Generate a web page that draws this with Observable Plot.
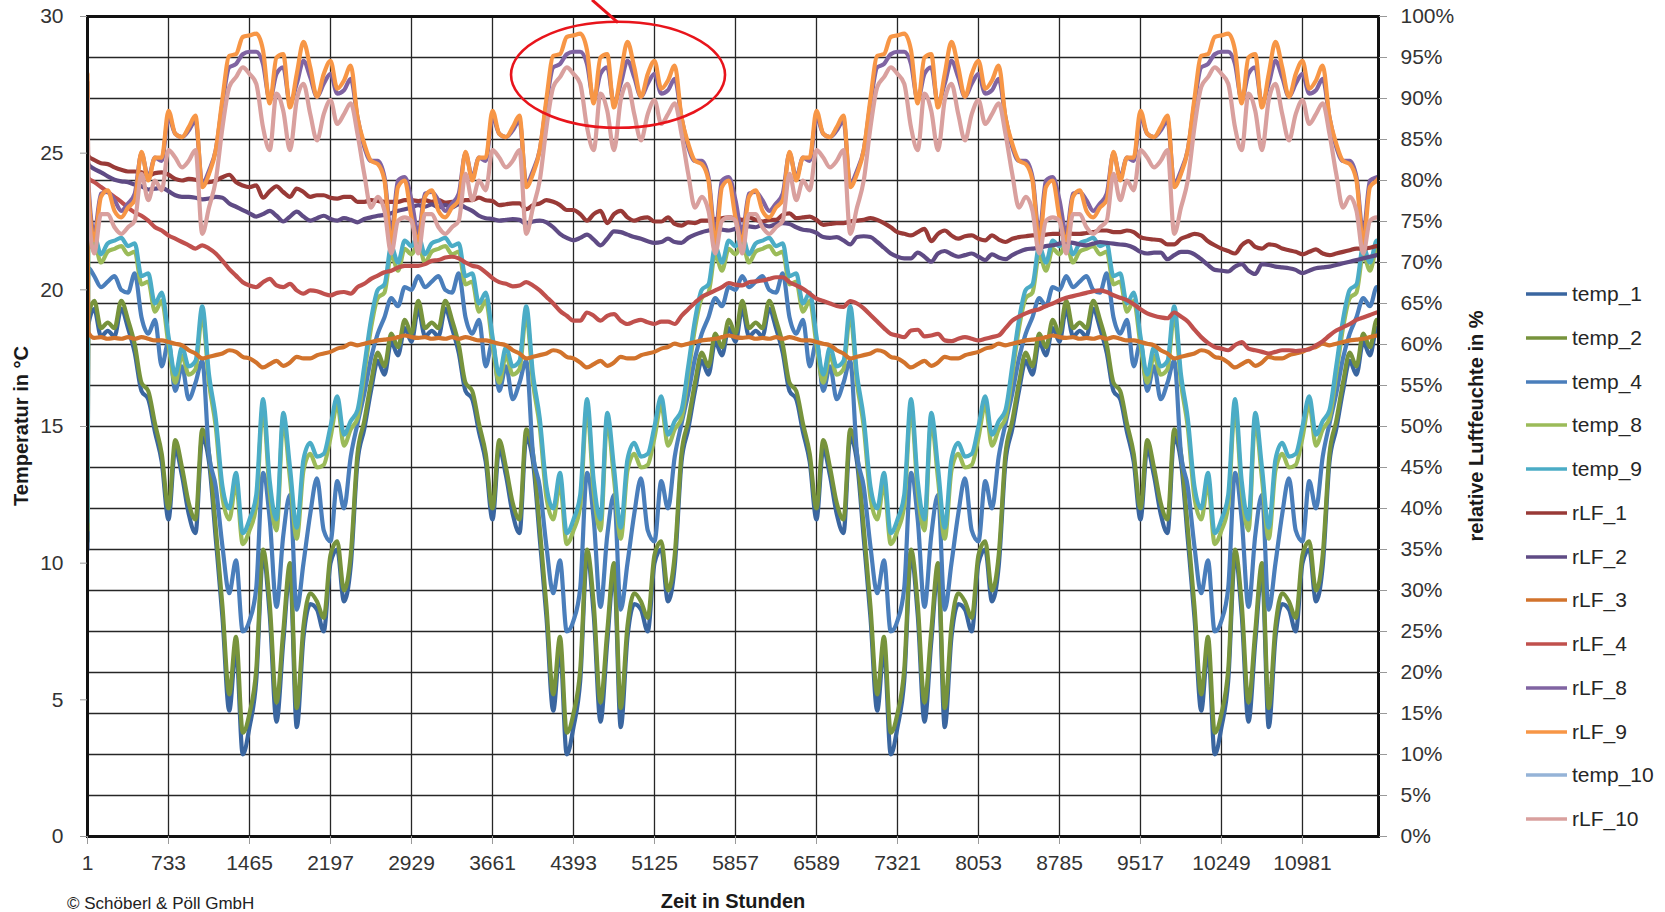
<!DOCTYPE html>
<html>
<head>
<meta charset="utf-8">
<script src="https://cdn.jsdelivr.net/npm/d3@7"></script>
<script src="https://cdn.jsdelivr.net/npm/@observablehq/plot@0.6"></script>
<style>
  body { margin: 0; background: #fff; }
  #wrap { position: relative; width: 1665px; height: 912px; overflow: hidden; font-family: "Liberation Sans", Arial, sans-serif; color: #222; }
  #wrap > svg { position: absolute; left: 0; top: 0; }
  .atitle { position: absolute; font-weight: bold; font-size: 20px; color: #1a1a1a; white-space: nowrap; transform: translate(-50%, -50%); }
  .rot { transform: translate(-50%, -50%) rotate(-90deg); }
  .copy { position: absolute; font-size: 17px; color: #222; white-space: nowrap; transform: translateY(-50%); }
  .lrow { position: absolute; display: flex; align-items: center; height: 26px; font-size: 21px; color: #262626; white-space: nowrap; }
  .lrow svg { margin-right: 5px; }
</style>
</head>
<body>
<div id="wrap"></div>
<script>
// ---------- DATA ----------
// sampling hours (x categories): start, start transient, then every 61 h
const hours = [1, 8, ...d3.range(62, 11714, 61)];
const xTicks = [1, 733, 1465, 2197, 2929, 3661, 4393, 5125, 5857, 6589, 7321, 8053, 8785, 9517, 10249, 10981];
const tempTicks = [0, 5, 10, 15, 20, 25, 30];
const rhTicks = [0, 5, 10, 15, 20, 25, 30, 35, 40, 45, 50, 55, 60, 65, 70, 75, 80, 85, 90, 95, 100];

// Temperatures in °C
const temp_1 = [10.5, 18.7,
19.3,18.3,18.5,18.3,19.3,18.6,17.7,16.3,16.0,14.8,13.7,11.6,14.2,13.2,11.8,11.1,14.6,13.7,10.9,8.0,4.6,6.9,3.0,4.0,5.7,10.2,8.1,4.2,7.1,9.7,4.0,7.3,8.5,8.3,7.5,10.0,10.5,8.6,9.9,13.7,14.9,16.3,17.4,16.9,18.1,17.6,18.6,
18.1,19.3,18.3,18.5,18.3,19.3,18.6,17.7,16.3,16.0,14.8,13.7,11.6,14.2,13.2,11.8,11.1,14.6,13.7,10.9,8.0,4.6,6.9,3.0,4.0,5.7,10.2,8.1,4.2,7.1,9.7,4.0,7.3,8.5,8.3,7.5,10.0,10.5,8.6,9.9,13.7,14.9,16.3,17.4,16.9,18.1,17.6,18.6,
18.1,19.3,18.3,18.5,18.3,19.3,18.6,17.7,16.3,16.0,14.8,13.7,11.6,14.2,13.2,11.8,11.1,14.6,13.7,10.9,8.0,4.6,6.9,3.0,4.0,5.7,10.2,8.1,4.2,7.1,9.7,4.0,7.3,8.5,8.3,7.5,10.0,10.5,8.6,9.9,13.7,14.9,16.3,17.4,16.9,18.1,17.6,18.6,
18.1,19.3,18.3,18.5,18.3,19.3,18.6,17.7,16.3,16.0,14.8,13.7,11.6,14.2,13.2,11.8,11.1,14.6,13.7,10.9,8.0,4.6,6.9,3.0,4.0,5.7,10.2,8.1,4.2,7.1,9.7,4.0,7.3,8.5,8.3,7.5,10.0,10.5,8.6,9.9,13.7,14.9,16.3,17.4,16.9,18.1,17.6,18.6,
18.1];
const temp_2 = [10.8, 19.0,
19.6,18.6,18.8,18.6,19.6,18.9,18.0,16.6,16.3,15.1,14.0,12.0,14.5,13.5,12.2,11.6,14.9,14.0,11.3,8.4,5.2,7.3,3.8,4.5,6.1,10.5,8.5,4.9,7.5,10.0,4.7,7.7,8.9,8.6,8.0,10.3,10.8,9.0,10.3,14.0,15.2,16.6,17.7,17.2,18.4,17.9,18.9,
18.4,19.6,18.6,18.8,18.6,19.6,18.9,18.0,16.6,16.3,15.1,14.0,12.0,14.5,13.5,12.2,11.6,14.9,14.0,11.3,8.4,5.2,7.3,3.8,4.5,6.1,10.5,8.5,4.9,7.5,10.0,4.7,7.7,8.9,8.6,8.0,10.3,10.8,9.0,10.3,14.0,15.2,16.6,17.7,17.2,18.4,17.9,18.9,
18.4,19.6,18.6,18.8,18.6,19.6,18.9,18.0,16.6,16.3,15.1,14.0,12.0,14.5,13.5,12.2,11.6,14.9,14.0,11.3,8.4,5.2,7.3,3.8,4.5,6.1,10.5,8.5,4.9,7.5,10.0,4.7,7.7,8.9,8.6,8.0,10.3,10.8,9.0,10.3,14.0,15.2,16.6,17.7,17.2,18.4,17.9,18.9,
18.4,19.6,18.6,18.8,18.6,19.6,18.9,18.0,16.6,16.3,15.1,14.0,12.0,14.5,13.5,12.2,11.6,14.9,14.0,11.3,8.4,5.2,7.3,3.8,4.5,6.1,10.5,8.5,4.9,7.5,10.0,4.7,7.7,8.9,8.6,8.0,10.3,10.8,9.0,10.3,14.0,15.2,16.6,17.7,17.2,18.4,17.9,18.9,
18.4];
const temp_4 = [10.8, 20.8,
20.5,20.1,20.3,20.5,20.0,19.9,20.6,19.0,18.4,18.9,17.2,18.1,16.3,17.2,16.0,16.6,17.4,14.0,12.8,10.6,8.9,10.1,7.5,7.9,9.1,13.3,11.6,8.4,11.0,12.5,8.3,10.0,11.8,13.1,11.2,10.8,13.0,12.0,13.9,15.1,16.2,17.5,18.4,19.0,19.7,19.4,20.1,
20.0,20.5,20.1,20.3,20.5,20.0,19.9,20.6,19.0,18.4,18.9,17.2,18.1,16.3,17.2,16.0,16.6,17.4,14.0,12.8,10.6,8.9,10.1,7.5,7.9,9.1,13.3,11.6,8.4,11.0,12.5,8.3,10.0,11.8,13.1,11.2,10.8,13.0,12.0,13.9,15.1,16.2,17.5,18.4,19.0,19.7,19.4,20.1,
20.0,20.5,20.1,20.3,20.5,20.0,19.9,20.6,19.0,18.4,18.9,17.2,18.1,16.3,17.2,16.0,16.6,17.4,14.0,12.8,10.6,8.9,10.1,7.5,7.9,9.1,13.3,11.6,8.4,11.0,12.5,8.3,10.0,11.8,13.1,11.2,10.8,13.0,12.0,13.9,15.1,16.2,17.5,18.4,19.0,19.7,19.4,20.1,
20.0,20.5,20.1,20.3,20.5,20.0,19.9,20.6,19.0,18.4,18.9,17.2,18.1,16.3,17.2,16.0,16.6,17.4,14.0,12.8,10.6,8.9,10.1,7.5,7.9,9.1,13.3,11.6,8.4,11.0,12.5,8.3,10.0,11.8,13.1,11.2,10.8,13.0,12.0,13.9,15.1,16.2,17.5,18.4,19.0,19.7,19.4,20.1,
20.0];
const temp_8 = [11.2, 21.5,
21.7,21.0,21.4,21.5,21.6,21.3,21.4,20.2,20.3,19.2,19.6,18.0,16.6,17.6,16.9,17.1,19.1,16.6,15.0,12.4,11.6,12.9,10.7,11.2,12.1,15.7,12.6,11.2,15.2,13.1,10.9,13.4,14.0,13.5,13.6,14.6,15.8,14.3,14.9,15.3,16.9,18.6,19.7,19.9,21.3,20.7,21.5,
21.3,21.7,21.0,21.4,21.5,21.6,21.3,21.4,20.2,20.3,19.2,19.6,18.0,16.6,17.6,16.9,17.1,19.1,16.6,15.0,12.4,11.6,12.9,10.7,11.2,12.1,15.7,12.6,11.2,15.2,13.1,10.9,13.4,14.0,13.5,13.6,14.6,15.8,14.3,14.9,15.3,16.9,18.6,19.7,19.9,21.3,20.7,21.5,
21.3,21.7,21.0,21.4,21.5,21.6,21.3,21.4,20.2,20.3,19.2,19.6,18.0,16.6,17.6,16.9,17.1,19.1,16.6,15.0,12.4,11.6,12.9,10.7,11.2,12.1,15.7,12.6,11.2,15.2,13.1,10.9,13.4,14.0,13.5,13.6,14.6,15.8,14.3,14.9,15.3,16.9,18.6,19.7,19.9,21.3,20.7,21.5,
21.3,21.7,21.0,21.4,21.5,21.6,21.3,21.4,20.2,20.3,19.2,19.6,18.0,16.6,17.6,16.9,17.1,19.1,16.6,15.0,12.4,11.6,12.9,10.7,11.2,12.1,15.7,12.6,11.2,15.2,13.1,10.9,13.4,14.0,13.5,13.6,14.6,15.8,14.3,14.9,15.3,16.9,18.6,19.7,19.9,21.3,20.7,21.5,
21.3];
const temp_9 = [11.5, 22.0,
22.0,21.3,21.7,21.8,21.9,21.6,21.7,20.5,20.6,19.5,19.9,18.3,16.9,17.9,17.2,17.4,19.4,16.9,15.3,12.8,12.0,13.3,11.1,11.6,12.5,16.0,13.0,11.6,15.5,13.5,11.3,13.8,14.4,13.9,14.0,15.0,16.1,14.7,15.2,15.6,17.2,18.9,20.0,20.2,21.6,21.0,21.8,
21.6,22.0,21.3,21.7,21.8,21.9,21.6,21.7,20.5,20.6,19.5,19.9,18.3,16.9,17.9,17.2,17.4,19.4,16.9,15.3,12.8,12.0,13.3,11.1,11.6,12.5,16.0,13.0,11.6,15.5,13.5,11.3,13.8,14.4,13.9,14.0,15.0,16.1,14.7,15.2,15.6,17.2,18.9,20.0,20.2,21.6,21.0,21.8,
21.6,22.0,21.3,21.7,21.8,21.9,21.6,21.7,20.5,20.6,19.5,19.9,18.3,16.9,17.9,17.2,17.4,19.4,16.9,15.3,12.8,12.0,13.3,11.1,11.6,12.5,16.0,13.0,11.6,15.5,13.5,11.3,13.8,14.4,13.9,14.0,15.0,16.1,14.7,15.2,15.6,17.2,18.9,20.0,20.2,21.6,21.0,21.8,
21.6,22.0,21.3,21.7,21.8,21.9,21.6,21.7,20.5,20.6,19.5,19.9,18.3,16.9,17.9,17.2,17.4,19.4,16.9,15.3,12.8,12.0,13.3,11.1,11.6,12.5,16.0,13.0,11.6,15.5,13.5,11.3,13.8,14.4,13.9,14.0,15.0,16.1,14.7,15.2,15.6,17.2,18.9,20.0,20.2,21.6,21.0,21.8,
21.6];
const temp_10 = []; // no visible values in the picture

// Relative humidity in %
const rLF_1 = [84, 83,
82.5,82.1,82.0,81.6,81.3,81.1,81.1,81.0,80.6,80.9,81.0,80.7,80.2,80.0,80.2,80.1,79.8,79.8,80.0,80.4,80.7,79.8,79.4,79.2,79.4,77.9,78.7,79.3,78.6,78.0,79.0,78.6,78.0,78.2,78.2,77.9,77.8,78.0,78.0,77.4,77.4,77.6,77.5,77.4,77.4,77.4,77.6,
77.6,77.5,77.6,77.4,77.6,77.3,77.4,77.4,77.6,77.6,77.9,77.6,77.5,77.0,77.1,77.2,77.2,76.5,77.0,77.2,77.6,77.4,77.0,76.4,76.4,75.9,75.1,75.9,76.3,74.8,75.9,76.3,75.5,75.1,75.4,75.5,75.0,75.0,75.5,74.7,74.5,74.9,74.8,75.1,75.1,75.3,75.4,75.5,
75.4,75.2,75.5,75.2,75.0,75.2,75.2,75.8,76.0,75.4,75.5,75.6,75.2,74.6,74.7,74.8,74.8,75.0,75.1,75.2,75.4,75.2,74.8,74.3,73.7,73.5,73.3,73.7,74.1,72.6,73.5,73.9,73.3,72.9,73.2,73.3,72.9,72.7,73.3,72.8,72.5,72.9,73.1,73.2,73.3,73.3,73.4,73.5,
73.5,73.7,73.5,73.5,73.6,73.7,73.9,73.9,73.7,73.7,73.9,73.7,73.1,72.9,72.8,72.7,72.2,72.2,72.9,73.2,73.5,73.3,72.6,72.1,71.7,71.4,71.1,72.1,72.6,71.9,71.7,72.2,72.1,71.7,71.5,71.3,71.0,71.3,71.6,71.1,70.9,71.1,71.3,71.5,71.7,71.7,71.8,72.0,
72.0];
const rLF_2 = [83, 82,
81.4,81.0,80.5,80.1,79.9,79.8,79.5,79.3,78.9,79.0,79.1,78.7,78.2,78.0,78.0,77.9,77.7,77.8,78.0,77.9,77.2,76.8,76.4,76.0,75.6,75.9,76.3,75.7,75.0,75.6,76.2,75.6,75.1,75.4,75.7,75.3,75.1,75.4,75.2,74.9,75.3,75.5,75.7,75.8,76.0,76.3,76.5,
76.7,77.0,76.8,77.1,76.7,77.0,76.7,77.1,76.7,76.3,75.7,75.4,75.3,75.1,75.2,75.3,75.2,74.7,75.0,75.1,74.9,74.3,73.5,73.0,72.7,73.0,73.4,72.8,72.1,72.9,73.8,73.7,73.4,73.1,72.9,72.6,72.4,72.5,72.9,72.5,72.4,73.0,73.4,73.7,73.9,74.1,74.0,73.9,
74.1,74.3,74.4,74.3,74.6,74.4,74.7,74.8,74.7,74.3,74.0,73.9,73.6,73.1,73.0,73.1,72.7,72.2,73.1,73.2,73.1,72.5,71.8,71.1,70.7,70.5,70.5,71.2,70.7,70.1,71.1,71.4,71.0,70.7,70.9,71.1,70.7,70.3,71.0,70.6,70.4,70.9,71.3,71.6,71.7,71.8,72.0,72.1,
72.3,72.5,72.4,72.2,72.1,72.3,72.5,72.4,72.3,72.2,72.1,71.8,71.3,71.1,71.2,71.2,70.4,70.9,71.3,71.3,71.0,70.4,69.7,69.1,69.0,68.9,69.5,69.8,69.0,68.6,69.8,69.7,69.5,69.4,69.3,69.1,68.7,69.0,69.3,69.4,69.5,69.7,69.9,70.1,70.3,70.5,70.7,70.9,
71.0];
const rLF_3 = [78, 61.5,
60.8,60.9,60.7,60.8,60.7,60.9,60.7,60.9,60.7,60.5,60.5,60.3,60.1,59.9,59.3,58.9,58.3,58.5,58.7,58.9,59.3,59.1,58.5,58.3,57.8,57.2,57.6,58.0,57.4,57.8,58.5,58.3,58.3,58.7,58.9,59.1,59.5,59.7,60.1,59.9,60.1,60.3,60.5,60.6,60.7,60.9,61.1,
60.9,60.8,60.9,60.7,60.8,60.7,60.9,60.7,60.9,60.7,60.5,60.5,60.3,60.1,59.9,59.3,58.9,58.3,58.5,58.7,58.9,59.3,59.1,58.5,58.3,57.8,57.2,57.6,58.0,57.4,57.8,58.5,58.3,58.3,58.7,58.9,59.1,59.5,59.7,60.1,59.9,60.1,60.3,60.5,60.6,60.7,60.9,61.1,
60.9,60.8,60.9,60.7,60.8,60.7,60.9,60.7,60.9,60.7,60.5,60.5,60.3,60.1,59.9,59.3,58.9,58.3,58.5,58.7,58.9,59.3,59.1,58.5,58.3,57.8,57.2,57.6,58.0,57.4,57.8,58.5,58.3,58.3,58.7,58.9,59.1,59.5,59.7,60.1,59.9,60.1,60.3,60.5,60.6,60.7,60.9,61.1,
60.9,60.8,60.9,60.7,60.8,60.7,60.9,60.7,60.9,60.7,60.5,60.5,60.3,60.1,59.9,59.3,58.9,58.3,58.5,58.7,58.9,59.3,59.1,58.5,58.3,57.8,57.2,57.6,58.0,57.4,57.8,58.5,58.3,58.3,58.7,58.9,59.1,59.5,59.7,60.1,59.9,60.1,60.3,60.5,60.6,60.7,60.9,61.1,
61.2];
const rLF_4 = [81, 80.3,
79.8,79.2,78.6,78.0,77.4,76.7,76.1,75.7,75.1,74.3,73.9,73.3,72.9,72.5,72.1,71.7,72.1,71.7,71.1,70.2,69.2,68.4,67.6,67.2,67.0,67.6,68.0,67.2,67.0,67.4,66.6,66.2,66.6,66.5,66.2,66.0,66.3,66.4,66.2,67.0,67.4,68.0,68.4,68.8,69.0,69.4,69.6,
69.6,69.6,69.8,70.2,70.3,70.6,70.7,70.5,70.0,69.6,69.4,68.8,68.1,67.6,67.4,67.1,67.2,67.6,67.2,66.6,65.8,65.0,64.1,63.5,62.9,62.9,63.9,63.5,62.9,63.5,63.7,62.9,62.5,62.8,63.0,62.7,62.5,62.8,62.8,62.5,63.5,64.3,65.1,65.8,66.2,66.6,67.0,67.5,
67.3,67.2,67.6,67.7,67.8,68.0,68.2,68.2,67.6,67.2,66.8,66.2,65.6,65.3,65.0,64.7,64.6,65.3,65.0,64.4,63.6,62.8,62.0,61.3,61.1,60.9,61.7,61.8,61.0,61.1,61.3,60.5,60.4,60.7,60.9,60.7,60.5,60.7,60.9,61.1,62.0,62.9,63.4,63.8,64.1,64.3,64.7,65.0,
65.4,65.7,65.9,66.1,66.3,66.5,66.6,66.4,66.0,65.7,65.4,64.9,64.3,63.8,63.5,63.3,63.2,63.9,63.4,62.8,61.8,60.9,60.2,59.7,59.5,59.3,59.9,60.3,59.5,59.3,59.1,58.9,59.1,59.3,59.3,59.2,59.3,59.4,59.9,60.4,61.1,61.7,62.1,62.5,63.0,63.3,63.6,63.9,
64.1];
const rLF_8 = [92, 80,
73.5,78.4,78.6,77.6,76.3,77.2,78.4,83.3,80.4,82.8,82.4,87.7,85.7,85.3,86.1,87.3,79.6,81.2,83.7,89.4,93.8,94.2,95.4,95.7,95.7,94.2,89.8,93.0,93.8,89.4,91.8,94.6,92.6,90.2,91.8,93.0,90.6,91.0,92.4,87.7,84.1,82.4,82.4,80.4,73.5,80.0,80.4,
77.6,73.5,78.4,78.6,77.6,76.3,77.2,78.4,83.3,80.4,82.8,82.4,87.7,85.7,85.3,86.1,87.3,79.6,81.2,83.7,89.4,93.8,94.2,95.4,95.7,95.7,94.2,89.8,93.0,93.8,89.4,91.8,94.6,92.6,90.2,91.8,93.0,90.6,91.0,92.4,87.7,84.1,82.4,82.4,80.4,73.5,80.0,80.4,
77.6,73.5,78.4,78.6,77.6,76.3,77.2,78.4,83.3,80.4,82.8,82.4,87.7,85.7,85.3,86.1,87.3,79.6,81.2,83.7,89.4,93.8,94.2,95.4,95.7,95.7,94.2,89.8,93.0,93.8,89.4,91.8,94.6,92.6,90.2,91.8,93.0,90.6,91.0,92.4,87.7,84.1,82.4,82.4,80.4,73.5,80.0,80.4,
77.6,73.5,78.4,78.6,77.6,76.3,77.2,78.4,83.3,80.4,82.8,82.4,87.7,85.7,85.3,86.1,87.3,79.6,81.2,83.7,89.4,93.8,94.2,95.4,95.7,95.7,94.2,89.8,93.0,93.8,89.4,91.8,94.6,92.6,90.2,91.8,93.0,90.6,91.0,92.4,87.7,84.1,82.4,82.4,80.4,73.5,80.0,80.4,
80.6];
const rLF_9 = [93, 79,
72.7,78.0,78.8,76.3,75.5,76.7,77.6,83.5,80.0,82.8,82.8,88.5,85.7,85.3,86.5,87.9,79.2,80.8,83.7,90.0,95.2,95.4,97.5,97.7,97.9,95.9,89.4,95.0,95.4,88.9,93.0,96.9,93.8,90.2,93.0,94.6,91.2,92.2,94.0,87.7,84.5,82.4,82.0,80.0,72.3,79.2,80.0,
75.5,72.7,78.0,78.8,76.3,75.5,76.7,77.6,83.5,80.0,82.8,82.8,88.5,85.7,85.3,86.5,87.9,79.2,80.8,83.7,90.0,95.2,95.4,97.5,97.7,97.9,95.9,89.4,95.0,95.4,88.9,93.0,96.9,93.8,90.2,93.0,94.6,91.2,92.2,94.0,87.7,84.5,82.4,82.0,80.0,72.3,79.2,80.0,
75.5,72.7,78.0,78.8,76.3,75.5,76.7,77.6,83.5,80.0,82.8,82.8,88.5,85.7,85.3,86.5,87.9,79.2,80.8,83.7,90.0,95.2,95.4,97.5,97.7,97.9,95.9,89.4,95.0,95.4,88.9,93.0,96.9,93.8,90.2,93.0,94.6,91.2,92.2,94.0,87.7,84.5,82.4,82.0,80.0,72.3,79.2,80.0,
75.5,72.7,78.0,78.8,76.3,75.5,76.7,77.6,83.5,80.0,82.8,82.8,88.5,85.7,85.3,86.5,87.9,79.2,80.8,83.7,90.0,95.2,95.4,97.5,97.7,97.9,95.9,89.4,95.0,95.4,88.9,93.0,96.9,93.8,90.2,93.0,94.6,91.2,92.2,94.0,87.7,84.5,82.4,82.0,80.0,72.3,79.2,80.0,
81.2];
const rLF_10 = [90, 77,
71.1,75.9,75.9,74.3,73.5,74.3,75.1,80.8,77.6,80.0,78.8,83.7,82.8,81.6,82.4,83.7,73.5,76.7,80.0,86.5,91.4,92.6,93.8,93.0,91.8,86.5,83.7,90.6,88.5,83.7,89.8,91.8,88.1,84.9,88.1,89.8,86.9,88.1,89.4,85.7,80.8,76.7,78.0,76.3,71.1,75.1,75.5,
75.1,71.1,75.9,75.9,74.3,73.5,74.3,75.1,80.8,77.6,80.0,78.8,83.7,82.8,81.6,82.4,83.7,73.5,76.7,80.0,86.5,91.4,92.6,93.8,93.0,91.8,86.5,83.7,90.6,88.5,83.7,89.8,91.8,88.1,84.9,88.1,89.8,86.9,88.1,89.4,85.7,80.8,76.7,78.0,76.3,71.1,75.1,75.5,
75.1,71.1,75.9,75.9,74.3,73.5,74.3,75.1,80.8,77.6,80.0,78.8,83.7,82.8,81.6,82.4,83.7,73.5,76.7,80.0,86.5,91.4,92.6,93.8,93.0,91.8,86.5,83.7,90.6,88.5,83.7,89.8,91.8,88.1,84.9,88.1,89.8,86.9,88.1,89.4,85.7,80.8,76.7,78.0,76.3,71.1,75.1,75.5,
75.1,71.1,75.9,75.9,74.3,73.5,74.3,75.1,80.8,77.6,80.0,78.8,83.7,82.8,81.6,82.4,83.7,73.5,76.7,80.0,86.5,91.4,92.6,93.8,93.0,91.8,86.5,83.7,90.6,88.5,83.7,89.8,91.8,88.1,84.9,88.1,89.8,86.9,88.1,89.4,85.7,80.8,76.7,78.0,76.3,71.1,75.1,75.5,
72.0];

// annotation: highlighted summer peak (hour, °C)
const highlight = {hour: 4800, temp: 27.85, leaderFrom: [4800, 29.76], leaderTo: [4565, 30.59]};

// ---------- CHART ----------
const RH_TO_T = 30 / 100; // secondary axis: 100 % <-> 30 °C
const series = [
  {name: "temp_1",  values: temp_1,  color: "#3A66A0", rh: false},
  {name: "temp_2",  values: temp_2,  color: "#77933C", rh: false},
  {name: "temp_4",  values: temp_4,  color: "#4A7EBB", rh: false},
  {name: "temp_8",  values: temp_8,  color: "#9BBB59", rh: false},
  {name: "temp_9",  values: temp_9,  color: "#4BACC6", rh: false},
  {name: "temp_10", values: temp_10, color: "#95B3D7", rh: false},
  {name: "rLF_1",   values: rLF_1,   color: "#993A37", rh: true},
  {name: "rLF_2",   values: rLF_2,   color: "#5F4B85", rh: true},
  {name: "rLF_3",   values: rLF_3,   color: "#D2732C", rh: true},
  {name: "rLF_4",   values: rLF_4,   color: "#C0504D", rh: true},
  {name: "rLF_8",   values: rLF_8,   color: "#8064A2", rh: true},
  {name: "rLF_9",   values: rLF_9,   color: "#F79646", rh: true},
  {name: "rLF_10",  values: rLF_10,  color: "#D9A09E", rh: true}
];
const legendOrder = ["temp_1","temp_2","temp_4","temp_8","temp_9","rLF_1","rLF_2","rLF_3","rLF_4","rLF_8","rLF_9","temp_10","rLF_10"];

const gridY = rhTicks.map(r => r * RH_TO_T);

const lineMarks = series.map(s => Plot.line(s.values, {
  x: (d, i) => hours[i],
  y: d => s.rh ? d * RH_TO_T : d,
  stroke: s.color,
  strokeWidth: 4.2,
  strokeLinejoin: "round",
  curve: "monotone-x",
  clip: true
}));

const plot = Plot.plot({
  width: 1665,
  height: 912,
  marginLeft: 87,
  marginRight: 287,
  marginTop: 16,
  marginBottom: 76,
  x: {domain: [1, 11668]},
  y: {domain: [0, 30]},
  style: {fontFamily: "'Liberation Sans', Arial, sans-serif", fontSize: "21px", background: "white", overflow: "visible"},
  marks: [
    Plot.ruleY(gridY, {stroke: "#262626", strokeWidth: 1.3}),
    Plot.ruleX(xTicks, {stroke: "#262626", strokeWidth: 1.3}),
    ...lineMarks,
    Plot.frame({stroke: "#111", strokeWidth: 3}),
    Plot.axisY({anchor: "left", ticks: tempTicks, tickSize: 7, tickPadding: 17, label: null, stroke: "#999", fill: "#333"}),
    Plot.axisY({anchor: "right", ticks: gridY, tickFormat: (d, i) => rhTicks[i] + "%", tickSize: 8, tickPadding: 14, label: null, stroke: "#999", fill: "#333"}),
    Plot.axisX({ticks: xTicks, tickFormat: d => String(d), tickSize: 8, tickPadding: 11, label: null, stroke: "#999", fill: "#333"})
  ]
});

const wrap = d3.select("#wrap");
wrap.node().appendChild(plot);

// red highlight ellipse + leader line
const sx = plot.scale("x"), sy = plot.scale("y");
const svg = d3.select(plot);
svg.append("ellipse")
  .attr("cx", sx.apply(highlight.hour)).attr("cy", sy.apply(highlight.temp))
  .attr("rx", 107).attr("ry", 53)
  .attr("fill", "none").attr("stroke", "#E8141B").attr("stroke-width", 2.6);
svg.append("line")
  .attr("x1", sx.apply(highlight.leaderFrom[0])).attr("y1", sy.apply(highlight.leaderFrom[1]))
  .attr("x2", sx.apply(highlight.leaderTo[0])).attr("y2", sy.apply(highlight.leaderTo[1]))
  .attr("stroke", "#E8141B").attr("stroke-width", 3);

// axis titles and credit
wrap.append("div").attr("class", "atitle rot").style("left", "21px").style("top", "426px").text("Temperatur in °C");
wrap.append("div").attr("class", "atitle rot").style("left", "1476px").style("top", "426px").text("relative Luftfeuchte in %");
wrap.append("div").attr("class", "atitle").style("left", "733px").style("top", "901px").text("Zeit in Stunden");
wrap.append("div").attr("class", "copy").style("left", "67px").style("top", "904px").text("© Schöberl & Pöll GmbH");

// legend
legendOrder.forEach((name, i) => {
  const s = series.find(d => d.name === name);
  const row = wrap.append("div").attr("class", "lrow")
    .style("left", "1526px").style("top", (294 + 43.75 * i - 13) + "px");
  const sw = row.append("svg").attr("width", 41).attr("height", 8);
  sw.append("line").attr("x1", 0).attr("x2", 41).attr("y1", 4).attr("y2", 4)
    .attr("stroke", s.color).attr("stroke-width", 3.6);
  row.append("span").text(name);
});
</script>
</body>
</html>
